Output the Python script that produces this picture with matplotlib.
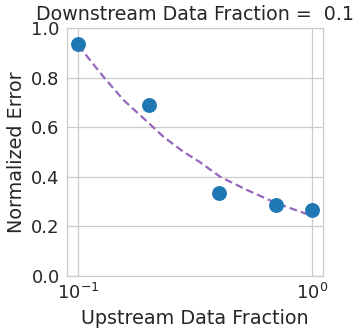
import numpy as np
import matplotlib
matplotlib.use("Agg")
import matplotlib.pyplot as plt
import seaborn as sns

# data
upstream_frac = [0.1, 0.2, 0.4, 0.7, 1.0]
norm_error = [0.935, 0.688, 0.335, 0.286, 0.265]

# fitted trend
fit_x = [0.1, 0.128, 0.156, 0.19, 0.231, 0.281, 0.329, 0.404, 0.525, 0.705, 1.0]
fit_y = [0.93, 0.804, 0.71, 0.636, 0.562, 0.501, 0.461, 0.40, 0.347, 0.293, 0.242]

downstream_frac = 0.1

sns.set_theme(style="whitegrid")
plt.rcParams.update({
    "axes.labelsize": 13.8,
    "axes.titlesize": 13.7,
    "xtick.labelsize": 13,
    "ytick.labelsize": 13,
    "xtick.major.size": 0,
    "ytick.major.size": 0,
    "xtick.minor.size": 0,
    "xtick.major.pad": 5.2,
    "ytick.major.pad": 5.2,
    "grid.linewidth": 0.9,
    "axes.linewidth": 0.9,
})

fig = plt.figure(figsize=(3.62, 3.34), dpi=100)
ax = fig.add_axes([0.185, 0.174, 0.707, 0.742])

ax.plot(fit_x, fit_y, linestyle="--", color="tab:purple", linewidth=1.6,
        dashes=(3.5, 1.8), zorder=2)
ax.scatter(upstream_frac, norm_error, s=115, color="tab:blue", zorder=3, linewidths=0)

ax.set_xscale("log")
ax.set_xlim(0.0895, 1.111)
ax.set_ylim(0, 1)
ax.set_xlabel("Upstream Data Fraction")
ax.set_ylabel("Normalized Error")
ax.set_title(f"Downstream Data Fraction =  {downstream_frac}")

fig.savefig("out.png", dpi=100)
